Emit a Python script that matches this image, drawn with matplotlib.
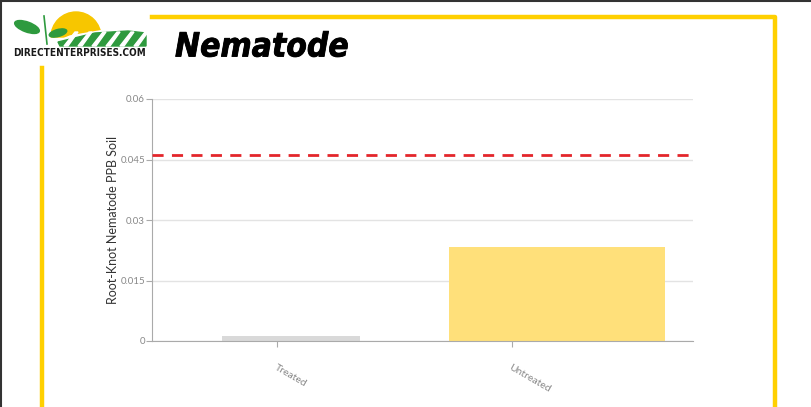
import numpy as np
import matplotlib.pyplot as plt
import matplotlib.patheffects as pe
from matplotlib.patches import Wedge, Polygon, Ellipse

categories = ["Treated", "Untreated"]
values = [0.0012, 0.0233]
bar_colors = ["#d9d9d9", "#ffe07a"]
threshold = 0.046
yticks = [0, 0.015, 0.03, 0.045, 0.06]
ytick_labels = ["0", "0.015", "0.03", "0.045", "0.06"]

W, H = 812, 407
fig = plt.figure(figsize=(W / 100, H / 100), dpi=100)

# page frame (pixel coordinates)
bg = fig.add_axes([0, 0, 1, 1])
bg.set_xlim(0, W)
bg.set_ylim(H, 0)
bg.axis("off")
bg.plot([0, W], [0.5, 0.5], color="#333333", lw=1.5)
bg.plot([1.5, 1.5], [0, H], color="#333333", lw=1.5)
yel = "#ffd000"
bg.plot([152, 775, 775], [16.5, 16.5, H], color=yel, lw=3.2, solid_joinstyle="round")
bg.plot([42, 42], [68, H], color=yel, lw=3.2)

# logo
bg.add_patch(Wedge((76, 37), 25, 180, 360, color="#f7c600", zorder=1))
bg.add_patch(Polygon([[44, 47], [70, 36], [105, 30], [148, 32], [148, 47]],
                     color="white", zorder=2))
bg.add_patch(Polygon([[58, 42], [95, 33], [128, 31], [146, 33], [146, 46], [60, 46]],
                     color="#2e9a3e", zorder=3))
for k in range(6):
    x0 = 64 + k * 14
    bg.add_patch(Polygon([[x0, 46], [x0 + 4, 46], [x0 + 14, 32], [x0 + 11, 32]],
                         color="white", zorder=4))
bg.add_patch(Ellipse((27, 27), 26, 10, angle=20, color="#2e9a3e", zorder=3))
bg.add_patch(Ellipse((58, 33), 18, 7, angle=-15, color="#2e9a3e", zorder=3))
bg.plot([44, 47], [16, 44], color="#2e9a3e", lw=1.2, zorder=3)
bg.text(80, 53, "DIRECTENTERPRISES.COM", ha="center", va="center", fontsize=7.2,
        fontweight="bold", family="DejaVu Sans", fontstretch="condensed",
        color="#1a1a1a")

bg.text(175, 47, "Nematode", ha="left", va="center", fontsize=24,
        fontweight="bold", fontstyle="italic", family="DejaVu Sans",
        fontstretch="condensed", color="black",
        path_effects=[pe.withStroke(linewidth=0.6, foreground="black")])

# chart
ax = fig.add_axes([152 / W, (H - 341) / H, 541 / W, 242 / H])
x = np.arange(len(categories))
ax.bar(x, values, width=[0.52, 0.81], color=bar_colors, zorder=2)
ax.axhline(threshold, color="#e3262b", lw=2, ls=(0, (4, 3)), zorder=3)
ax.set_xlim(-0.523, 1.511)
ax.set_ylim(0, 0.06)
ax.set_yticks(yticks)
ax.set_yticklabels(ytick_labels)
ax.set_xticks([-0.053, 0.83])
ax.set_xticklabels(categories, rotation=-30, ha="left", rotation_mode="anchor")
ax.grid(axis="y", color="#e3e3e3", lw=1, zorder=0)
for s in ["top", "right"]:
    ax.spines[s].set_visible(False)
ax.spines["left"].set_color("#aaaaaa")
ax.spines["bottom"].set_color("#aaaaaa")
ax.tick_params(axis="y", colors="#aaaaaa", labelcolor="#888888", labelsize=7,
               length=4, width=0.8, pad=1)
ax.tick_params(axis="x", colors="#aaaaaa", labelcolor="#888888", labelsize=7.5,
               length=4, width=0.8, pad=12)
for t in ax.get_xticklabels() + ax.get_yticklabels():
    t.set_family("Lato")
ax.set_ylabel("Root-Knot Nematode PPB Soil", fontsize=9, family="Lato",
              color="#333333", labelpad=1)

fig.savefig("out.png", dpi=100)
